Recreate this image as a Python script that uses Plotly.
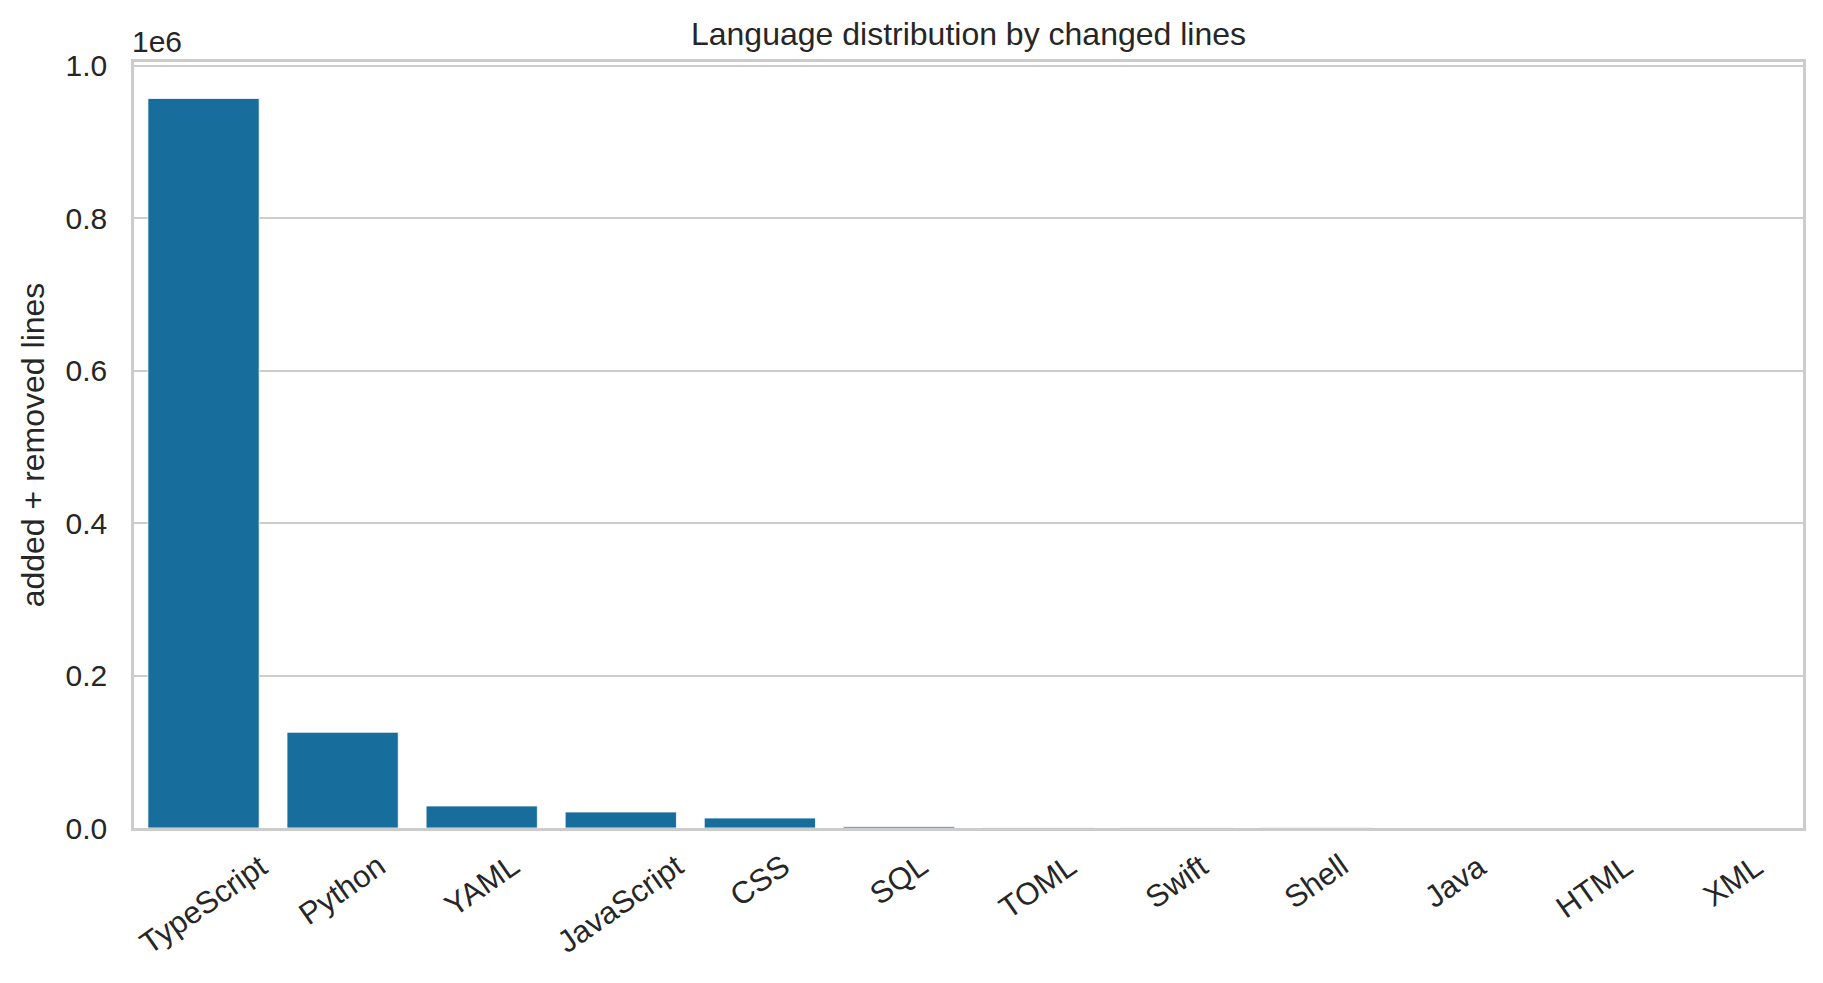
import plotly.graph_objects as go

languages = ["TypeScript", "Python", "YAML", "JavaScript", "CSS", "SQL",
             "TOML", "Swift", "Shell", "Java", "HTML", "XML"]
changed_lines = [957000, 125600, 28900, 21000, 13100, 2000,
                 400, 300, 200, 150, 100, 50]
y_tick_values = [0, 200000, 400000, 600000, 800000, 1000000]
y_tick_labels = ["0.0", "0.2", "0.4", "0.6", "0.8", "1.0"]

FONT = "Liberation Sans, Arial, sans-serif"
TXT = "#262626"
GRID = "#cccccc"
TICK_SIZE = 30
XTICK_SIZE = 31
LABEL_SIZE = 32

fig = go.Figure()
fig.add_trace(go.Bar(
    x=languages, y=changed_lines, width=0.8,
    marker=dict(color="#176d9c", line=dict(color="white", width=0.8)),
    showlegend=False,
))

for lang in languages:
    fig.add_annotation(
        x=lang, y=0, xref="x", yref="paper", text=lang, textangle=-35,
        showarrow=False, xanchor="center", yanchor="top", yshift=-17,
        font=dict(family=FONT, size=XTICK_SIZE, color=TXT),
    )

fig.add_annotation(
    x=0, y=1, xref="paper", yref="paper", text="1e6", showarrow=False,
    xanchor="left", yanchor="bottom", yshift=2, xshift=-4,
    font=dict(family=FONT, size=TICK_SIZE, color=TXT),
)

fig.update_layout(
    width=1823, height=983,
    margin=dict(l=134, r=20, t=62, b=155),
    paper_bgcolor="white", plot_bgcolor="white",
    font=dict(family=FONT, size=TICK_SIZE, color=TXT),
    title=dict(text="Language distribution by changed lines",
               x=0.5, xref="paper", xanchor="center",
               y=1, yref="paper", yanchor="bottom", pad=dict(b=17),
               font=dict(family=FONT, size=LABEL_SIZE, color=TXT)),
    bargap=0.2,
)
fig.update_xaxes(
    range=[-0.5, len(languages) - 0.5], showticklabels=False, showgrid=False,
    showline=True, mirror=True, linecolor=GRID, linewidth=2.5, ticks="",
)
fig.update_yaxes(
    range=[0, max(changed_lines) * 1.05],
    tickvals=y_tick_values, ticktext=y_tick_labels,
    showgrid=True, gridcolor=GRID, gridwidth=2,
    showline=True, mirror=True, linecolor=GRID, linewidth=2.5,
    ticks="", ticklabelstandoff=18, zeroline=False,
    tickfont=dict(family=FONT, size=TICK_SIZE, color=TXT),
    title=dict(text="added + removed lines", standoff=12,
               font=dict(family=FONT, size=LABEL_SIZE, color=TXT)),
)

fig.write_html("out.html")
